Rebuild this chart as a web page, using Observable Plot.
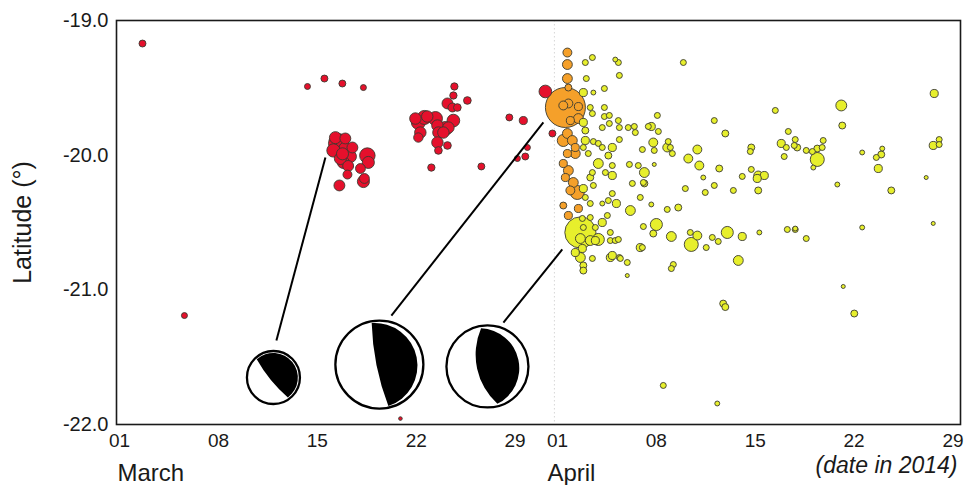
<!DOCTYPE html>
<html>
<head>
<meta charset="utf-8">
<script src="https://cdn.jsdelivr.net/npm/d3@7"></script>
<script src="https://cdn.jsdelivr.net/npm/@observablehq/plot@0.6"></script>
<style>
  html, body { margin: 0; padding: 0; background: #fff; }
  #chart { width: 964px; height: 485px; }
</style>
</head>
<body>
<div id="chart"></div>
<script>
// ---- data: [days since 2014-03-01 00:00 UTC, latitude, magnitude] ----
const foreshocks = [
  [1.84,-19.171,4.7],[4.81,-21.191,4.4],[13.52,-19.490,4.4],[14.72,-19.431,4.7],[15.99,-19.468,4.7],[17.48,-19.498,4.4],
  [15.71,-19.913,6.8],[16.21,-19.951,6.0],[15.36,-19.965,6.0],[16.56,-20.010,5.8],[16.06,-20.054,5.8],[16.70,-19.943,5.6],
  [15.85,-20.025,5.8],[17.76,-20.003,6.3],[17.83,-20.054,5.8],[17.27,-20.099,5.4],[16.35,-20.144,5.2],[17.48,-20.196,5.8],
  [15.78,-20.225,5.6],[17.55,-20.173,5.4],[15.50,-19.870,5.8],[16.20,-19.876,5.6],[16.00,-19.990,5.8],[16.40,-20.080,5.6],
  [21.37,-19.757,6.1],[21.16,-19.728,5.7],[21.80,-19.720,6.1],[21.51,-19.832,5.7],[21.37,-19.869,5.3],[22.58,-19.728,6.1],
  [22.72,-19.780,5.7],[23.28,-19.802,6.1],[22.79,-19.832,5.7],[23.85,-19.743,5.9],[22.72,-19.906,5.7],[22.79,-19.965,4.9],
  [23.43,-19.928,4.9],[23.43,-19.616,5.6],[23.78,-19.646,5.2],[24.13,-19.646,4.9],[23.85,-19.557,4.8],[23.92,-19.490,4.8],
  [24.84,-19.594,4.9],[22.29,-20.092,4.8],[23.50,-19.795,5.7],[23.14,-19.832,5.7],[22.00,-19.713,5.7],
  [25.83,-20.084,4.7],[27.81,-19.720,4.7],[28.80,-19.743,5.0],[28.38,-20.025,4.4],[28.94,-20.010,4.7],[29.09,-19.943,4.4],
  [30.36,-19.527,5.9],[30.86,-19.839,4.7],[20.10,-21.956,3.4]
];
const earlyAftershocks = [
  [31.92,-19.238,5.2],[31.92,-19.327,5.4],[31.92,-19.431,5.4],[31.99,-19.498,4.7],[31.78,-19.646,8.2],[31.99,-19.616,5.2],
  [31.63,-19.631,5.2],[32.70,-19.639,5.0],[32.13,-19.743,5.0],[32.70,-19.728,5.4],[31.92,-19.839,5.4],[31.63,-19.891,5.8],
  [32.27,-19.891,5.4],[32.48,-19.943,5.0],[31.92,-19.988,5.0],[32.48,-19.988,5.4],[31.63,-20.062,5.0],[31.99,-20.114,5.4],
  [31.78,-20.166,5.0],[32.34,-20.203,5.4],[32.62,-20.277,6.1],[32.13,-20.262,5.2],[32.70,-20.396,5.0],[31.99,-20.448,5.0],
  [31.63,-20.374,4.7]
];
const aftershocks = [
  [33.19,-19.312,4.4],[33.69,-19.275,4.4],[35.31,-19.290,4.0],[35.53,-19.312,4.4],[35.60,-19.408,4.4],[33.26,-19.431,4.4],
  [33.05,-19.535,5.0],[33.76,-19.535,4.0],[34.54,-19.505,4.4],[33.54,-19.646,4.4],[33.69,-19.691,4.4],[34.54,-19.646,4.4],
  [34.54,-19.713,4.4],[34.89,-19.705,4.4],[35.53,-19.743,4.4],[35.60,-19.795,4.4],[34.39,-19.795,4.4],[34.89,-19.765,4.4],
  [36.23,-19.795,4.4],[36.66,-19.787,4.4],[36.73,-19.832,4.4],[37.65,-19.787,4.4],[33.05,-19.757,5.0],[33.19,-19.817,4.7],
  [33.19,-19.891,5.0],[33.76,-19.899,4.4],[34.11,-19.913,4.4],[34.39,-19.943,4.4],[35.10,-19.943,5.0],[35.60,-19.884,4.4],
  [37.23,-19.958,4.4],[33.05,-19.943,4.4],[33.40,-19.988,4.4],[34.11,-20.062,5.4],[34.82,-20.003,4.7],[35.10,-20.077,4.4],
  [34.61,-20.129,4.4],[33.69,-20.129,4.4],[35.10,-20.151,5.0],[33.54,-20.166,4.7],[33.76,-20.225,4.4],[33.05,-20.248,5.0],
  [33.19,-20.314,4.4],[33.54,-20.359,4.4],[34.39,-20.359,4.0],[34.82,-20.337,4.4],[35.39,-20.359,5.0],[35.10,-20.285,4.4],
  [36.38,-20.411,5.4],[37.08,-20.314,4.4],[37.30,-20.203,4.4],[37.37,-20.129,5.4],[36.31,-20.069,4.4],[36.94,-20.077,4.4],
  [34.75,-20.448,4.4],[34.39,-20.500,5.0],[33.90,-20.537,4.4],[33.54,-20.463,4.4],[32.98,-20.470,4.4],[33.05,-20.537,4.4],
  [32.84,-20.574,7.7],[32.84,-20.619,5.4],[32.98,-20.693,5.0],[33.54,-20.634,5.4],[34.11,-20.626,5.8],[33.90,-20.634,5.0],
  [34.96,-20.574,4.4],[34.96,-20.634,4.4],[35.31,-20.634,4.4],[35.53,-20.626,4.4],[34.96,-20.760,5.0],[35.60,-20.760,4.4],
  [36.16,-20.797,4.4],[37.08,-20.686,5.0],[32.84,-20.760,5.4],[33.05,-20.819,4.7],[33.05,-20.857,4.7],[33.69,-20.767,4.4],
  [32.48,-20.723,5.0],[36.16,-20.894,3.6],[35.67,-20.767,4.4],[35.10,-20.745,5.0],[36.52,-20.210,4.4],
  [40.13,-19.312,4.4],[38.29,-19.705,4.4],[37.86,-19.787,5.0],[38.36,-19.824,4.4],[38.00,-19.906,5.2],[38.07,-19.965,4.4],
  [39.06,-19.899,4.4],[38.99,-19.943,5.2],[39.21,-19.943,4.4],[39.35,-19.988,4.4],[38.07,-20.069,3.6],[42.32,-19.743,4.4],
  [43.10,-19.839,4.7],[41.12,-19.958,5.2],[40.48,-20.025,5.2],[41.26,-20.077,5.2],[42.67,-20.099,4.7],[41.54,-20.166,4.0],
  [44.30,-20.158,4.4],[44.94,-19.943,4.7],[44.87,-19.973,4.4],[44.94,-20.106,4.4],[45.43,-20.151,5.2],[45.86,-20.151,5.0],
  [45.36,-20.173,5.0],[45.43,-20.262,4.7],[46.64,-19.668,4.4],[47.56,-19.824,4.4],[47.06,-19.913,5.0],[47.42,-19.943,4.4],
  [48.05,-19.884,4.4],[47.98,-19.928,4.4],[48.19,-19.943,4.7],[47.27,-20.010,4.4],[37.37,-20.210,4.7],[40.27,-20.248,4.4],
  [41.68,-20.277,4.4],[42.32,-20.225,4.4],[43.67,-20.262,4.4],[37.86,-20.366,4.0],[38.99,-20.403,4.4],[39.77,-20.389,4.7],
  [38.22,-20.515,5.8],[38.00,-20.582,4.7],[37.30,-20.530,4.4],[39.28,-20.604,5.4],[40.69,-20.663,6.1],[40.62,-20.574,4.4],
  [41.12,-20.597,5.2],[42.18,-20.611,4.4],[42.60,-20.641,4.4],[41.75,-20.686,4.4],[43.24,-20.574,5.8],[44.30,-20.604,5.0],
  [44.02,-20.782,5.4],[45.51,-20.574,4.0],[47.49,-20.552,4.4],[48.05,-20.552,4.4],[39.42,-20.812,4.4],[39.28,-20.842,4.4],
  [37.23,-20.686,4.4],[51.31,-19.631,5.6],[51.38,-19.780,4.7],[57.89,-19.542,5.0],[48.83,-19.965,4.4],[49.26,-19.973,4.4],
  [49.61,-19.951,4.7],[50.03,-19.891,4.4],[49.96,-19.943,4.4],[49.61,-20.032,6.1],[49.33,-20.092,4.0],[52.79,-19.980,4.0],
  [54.21,-19.951,4.0],[54.14,-19.995,4.7],[53.79,-20.017,4.4],[53.93,-20.099,5.0],[51.03,-20.218,4.0],[54.85,-20.262,4.7],
  [57.32,-20.166,3.6],[58.24,-19.884,4.4],[58.24,-19.921,4.4],[57.82,-19.928,5.0],[57.82,-20.507,3.6],[48.05,-20.545,4.0],
  [52.79,-20.537,4.0],[48.83,-20.619,4.4],[42.95,-21.102,4.7],[43.10,-21.128,4.7],[51.45,-20.975,3.6],[52.23,-21.176,4.7],
  [38.71,-21.710,4.4],[42.53,-21.844,4.0]
];
const phases = ["foreshock", "early aftershock", "aftershock"];

// focal mechanisms: ball centre and callout line (days since 2014-03-01, latitude)
const mechDay = [11.11, 18.61, 26.26];
const mechLat = [-21.651, -21.555, -21.569];
const calloutFromDay = [11.32, 19.46, 27.39];
const calloutFromLat = [-21.376, -21.191, -21.243];
const calloutToDay = [14.79, 30.22, 31.56];
const calloutToLat = [-20.017, -19.757, -20.700];
// nodal geometry (unit ball): lune endpoints and the points its two edges pass through
const nodalStart = [[-0.66,-0.72],[-0.18,-0.97],[-0.16,-0.96]];
const nodalEnd = [[0.57,0.79],[0.21,0.97],[0.25,0.94]];
const nodalInner = [[-0.10,0.10],[-0.07,0.0],[-0.27,0.0]];
const nodalOuter = [[0.93,-0.25],[0.89,0.04],[0.80,0.02]];

// axes
const xTickDates = ["2014-03-01","2014-03-08","2014-03-15","2014-03-22","2014-03-29",
                    "2014-04-01","2014-04-08","2014-04-15","2014-04-22","2014-04-29"];
const yTicks = [-22, -21, -20, -19];
const monthNames = ["March", "April"];
const monthStarts = ["2014-03-01", "2014-04-01"];

// ---- build ----
const t0 = Date.UTC(2014, 2, 1);
const toDate = (d) => new Date(t0 + d * 864e5);
const quakes = [
  ...foreshocks.map(([d, lat, m]) => ({date: toDate(d), lat, mag: m, phase: phases[0]})),
  ...earlyAftershocks.map(([d, lat, m]) => ({date: toDate(d), lat, mag: m, phase: phases[1]})),
  ...aftershocks.map(([d, lat, m]) => ({date: toDate(d), lat, mag: m, phase: phases[2]}))
];
const mechs = mechDay.map((d, i) => ({
  date: toDate(d), lat: mechLat[i],
  from: toDate(calloutFromDay[i]), fromLat: calloutFromLat[i],
  to: toDate(calloutToDay[i]), toLat: calloutToLat[i]
}));
const ballRadius = [26.5, 44, 41];

function arcThrough(ctx, a, m, b) {
  const [x1, y1] = a, [x2, y2] = m, [x3, y3] = b;
  const d = 2 * (x1 * (y2 - y3) + x2 * (y3 - y1) + x3 * (y1 - y2));
  if (Math.abs(d) < 1e-9) { ctx.lineTo(x3, y3); return; }
  const s1 = x1 * x1 + y1 * y1, s2 = x2 * x2 + y2 * y2, s3 = x3 * x3 + y3 * y3;
  const ux = (s1 * (y2 - y3) + s2 * (y3 - y1) + s3 * (y1 - y2)) / d;
  const uy = (s1 * (x3 - x2) + s2 * (x1 - x3) + s3 * (x2 - x1)) / d;
  const R = Math.hypot(x1 - ux, y1 - uy);
  const a0 = Math.atan2(y1 - uy, x1 - ux), am = Math.atan2(y2 - uy, x2 - ux), a1 = Math.atan2(y3 - uy, x3 - ux);
  const TAU = 2 * Math.PI, mod = (v) => ((v % TAU) + TAU) % TAU;
  const ccw = !(mod(am - a0) < mod(a1 - a0));
  ctx.arc(ux, uy, R, a0, a1, ccw);
}
function luneSymbol(i) {
  return {
    draw(ctx, size) {
      const R = Math.sqrt(size / Math.PI);
      const P = (p) => [p[0] * R, p[1] * R];
      const p0 = P(nodalStart[i]), p1 = P(nodalEnd[i]);
      ctx.moveTo(p0[0], p0[1]);
      arcThrough(ctx, p0, P(nodalOuter[i]), p1);
      arcThrough(ctx, p1, P(nodalInner[i]), p0);
      ctx.closePath();
    }
  };
}

const rOf = (d) => Math.exp(0.5 * d.mag);
const ballMarks = mechs.flatMap((m, i) => [
  Plot.dot([m], {x: "date", y: "lat", r: ballRadius[i], fill: "white", stroke: "black", strokeWidth: 2.3}),
  Plot.dot([m], {x: "date", y: "lat", r: ballRadius[i] - 1.2, symbol: luneSymbol(i), fill: "black", stroke: "none"})
]);

const fontFamily = "'Liberation Sans', Arial, Helvetica, sans-serif";
const chart = Plot.plot({
  width: 964,
  height: 485,
  marginLeft: 116,
  marginRight: 4,
  marginTop: 20,
  marginBottom: 61,
  style: {fontFamily, background: "white", color: "#1a1a1a", overflow: "visible"},
  x: {type: "utc", domain: [new Date(t0), new Date(Date.UTC(2014, 3, 29, 18))]},
  y: {domain: [-22, -19]},
  r: {type: "linear", domain: [0, Math.exp(0.5 * 8.2)], range: [0, 20]},
  color: {type: "ordinal", domain: phases, range: ["#e5102c", "#f5a02a", "#e7ef2c"]},
  marks: [
    Plot.ruleX([new Date(Date.UTC(2014, 3, 1))], {stroke: "#d6d6d6", strokeWidth: 1, strokeDasharray: "1.5,2.5"}),
    Plot.dot(quakes, {x: "date", y: "lat", r: rOf, fill: "phase", stroke: "#3a3a30", strokeWidth: 0.9}),
    Plot.link(mechs, {x1: "from", y1: "fromLat", x2: "to", y2: "toLat", stroke: "black", strokeWidth: 2}),
    ...ballMarks,
    Plot.frame({stroke: "#1a1a1a", strokeWidth: 1.6}),
    Plot.axisX({
      ticks: xTickDates.map((s) => new Date(s + "T12:00:00Z")),
      tickFormat: d3.utcFormat("%d"), tickSize: 0, tickPadding: 9, dx: -4, fontSize: 19, label: null
    }),
    Plot.axisY({ticks: yTicks, tickFormat: (d) => d.toFixed(1), tickSize: 0, tickPadding: 8, fontSize: 20, label: null}),
    Plot.text(["Latitude (°)"], {frameAnchor: "left", dx: -94, rotate: -90, textAnchor: "middle", fontSize: 25, text: (d) => d}),
    Plot.text([monthNames[0]], {x: [new Date(monthStarts[0] + "T00:00:00Z")], frameAnchor: "bottom", dy: 56, dx: 1, textAnchor: "start", fontSize: 24, text: (d) => d}),
    Plot.text([monthNames[1]], {x: [new Date(monthStarts[1] + "T00:00:00Z")], frameAnchor: "bottom", dy: 56, dx: -7, textAnchor: "start", fontSize: 24, text: (d) => d}),
    Plot.text(["(date in 2014)"], {frameAnchor: "bottom-right", dy: 48, dx: -3, textAnchor: "end", fontSize: 23, fontStyle: "italic", text: (d) => d})
  ]
});
document.getElementById("chart").appendChild(chart);
</script>
</body>
</html>
